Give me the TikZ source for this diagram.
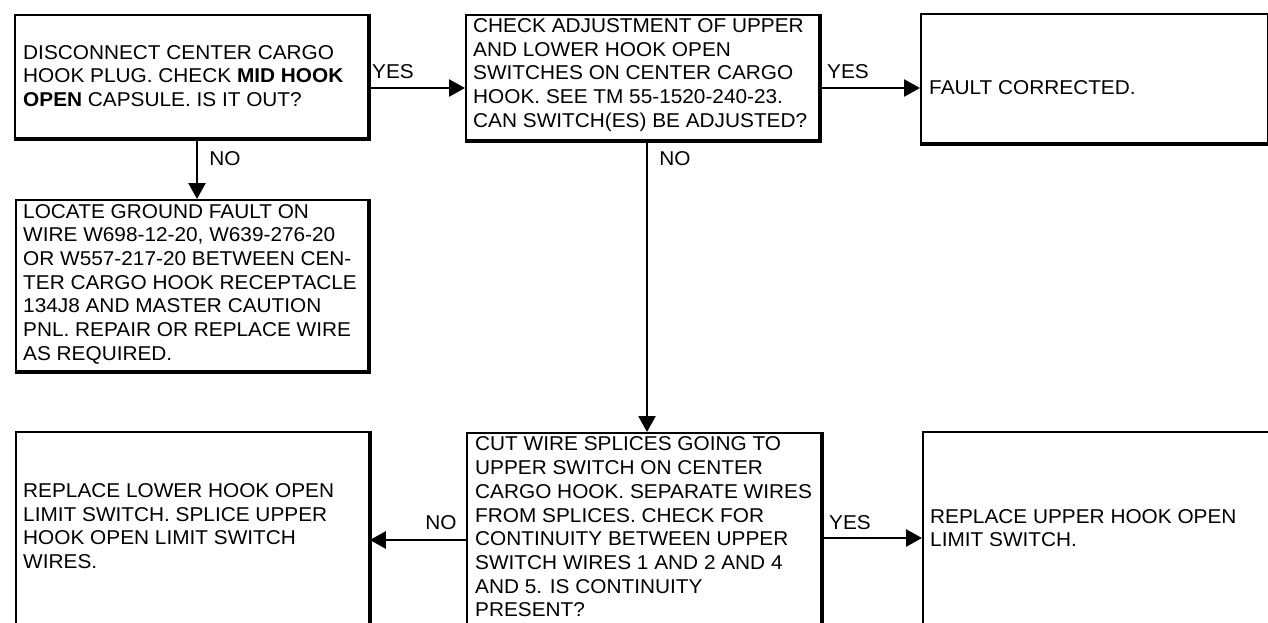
\documentclass[tikz,border=0pt]{standalone}
\usepackage{fontspec}
\setmainfont[FakeStretch=1.04]{Liberation Sans}
\usetikzlibrary{arrows.meta}
\begin{document}
\begin{tikzpicture}[x=1pt,y=-1pt,
  box/.style={draw, line width=1.8pt, anchor=north west, inner sep=0},
  txt/.style={anchor=west, align=left, inner sep=0, font=\fontsize{20}{23.7}\selectfont},
  lbl/.style={inner sep=0, font=\fontsize{20}{24}\selectfont},
  arr/.style={line width=2.6pt, -{Triangle[length=16pt,width=17pt]}},
  heavy/.style={line width=3.6pt}]
\useasboundingbox (0,0) rectangle (1268,622);
\begin{scope}
\clip (0,0) rectangle (1268,622);
% boxes
\node[box, minimum width=353pt, minimum height=123pt] (A) at (14,14) {};
\node[box, minimum width=352pt, minimum height=171pt] (B) at (15,199) {};
\node[box, minimum width=353pt, minimum height=125pt] (C) at (465,14) {};
\node[box, minimum width=347pt, minimum height=129pt] (D) at (920,13) {};
\node[box, minimum width=354pt, minimum height=230pt] (E) at (466,432) {};
\node[box, minimum width=353pt, minimum height=230pt] (F) at (15,431) {};
\node[box, minimum width=400pt, minimum height=230pt] (G) at (922,431) {};
% heavy edges
\draw[heavy] (A.north east) -- (A.south east) -- (A.south west);
\draw[heavy] (B.north east) -- (B.south east) -- (B.south west);
\draw[heavy] (C.north east) -- (C.south east) -- (C.south west);
\draw[heavy] (D.south east) -- (D.south west);
\draw[heavy] (E.north east) -- (E.south east);
\draw[heavy] (F.north east) -- (F.south east);
% texts
\node[txt] (At) at (23,76) {DISCONNECT CENTER CARGO\\HOOK PLUG. CHECK \textbf{MID HOOK}\\\textbf{OPEN} CAPSULE. IS IT OUT?};
\node[txt] (Bt) at (23,284) {LOCATE GROUND FAULT ON\\WIRE W698-12-20, W639-276-20\\OR W557-217-20 BETWEEN CEN-\\TER CARGO HOOK RECEPTACLE\\134J8 AND MASTER CAUTION\\PNL. REPAIR OR REPLACE WIRE\\AS REQUIRED.};
\node[txt] (Ct) at (473,75) {CHECK ADJUSTMENT OF UPPER\\AND LOWER HOOK OPEN\\SWITCHES ON CENTER CARGO\\HOOK. SEE TM 55-1520-240-23.\\CAN SWITCH(ES) BE ADJUSTED?};
\node[txt] (Dt) at (929,88) {FAULT CORRECTED.};
\node[txt] (Et) at (475,527) {CUT WIRE SPLICES GOING TO\\UPPER SWITCH ON CENTER\\CARGO HOOK. SEPARATE WIRES\\FROM SPLICES. CHECK FOR\\CONTINUITY BETWEEN UPPER\\SWITCH WIRES 1 AND 2 AND 4\\AND 5. IS CONTINUITY\\PRESENT?};
\node[txt] (Ft) at (23,526) {REPLACE LOWER HOOK OPEN\\LIMIT SWITCH. SPLICE UPPER\\HOOK OPEN LIMIT SWITCH\\WIRES.};
\node[txt] (Gt) at (930,528) {REPLACE UPPER HOOK OPEN\\LIMIT SWITCH.};
% helper coordinates
\coordinate (yA) at (0,88);
\coordinate (yF) at (0,540);
\coordinate (yG) at (0,538);
\coordinate (xA) at (197,0);
\coordinate (xC) at (647,0);
% connectors
\draw[arr] (A.east |- yA) -- (C.west |- yA);
\draw[arr] (C.east |- yA) -- (D.west |- yA);
\draw[arr] (A.south -| xA) -- (B.north -| xA);
\draw[arr] (C.south -| xC) -- (E.north -| xC);
\draw[arr] (E.west |- yF) -- (F.east |- yF);
\draw[arr] (E.east |- yG) -- (G.west |- yG);
% labels
\node[lbl] (l1) at (393,72) {YES};
\node[lbl] (l2) at (225,159) {NO};
\node[lbl] (l3) at (848,72) {YES};
\node[lbl] (l4) at (675,159) {NO};
\node[lbl] (l5) at (441,523) {NO};
\node[lbl] (l6) at (850,523) {YES};
\end{scope}
\end{tikzpicture}
\end{document}
